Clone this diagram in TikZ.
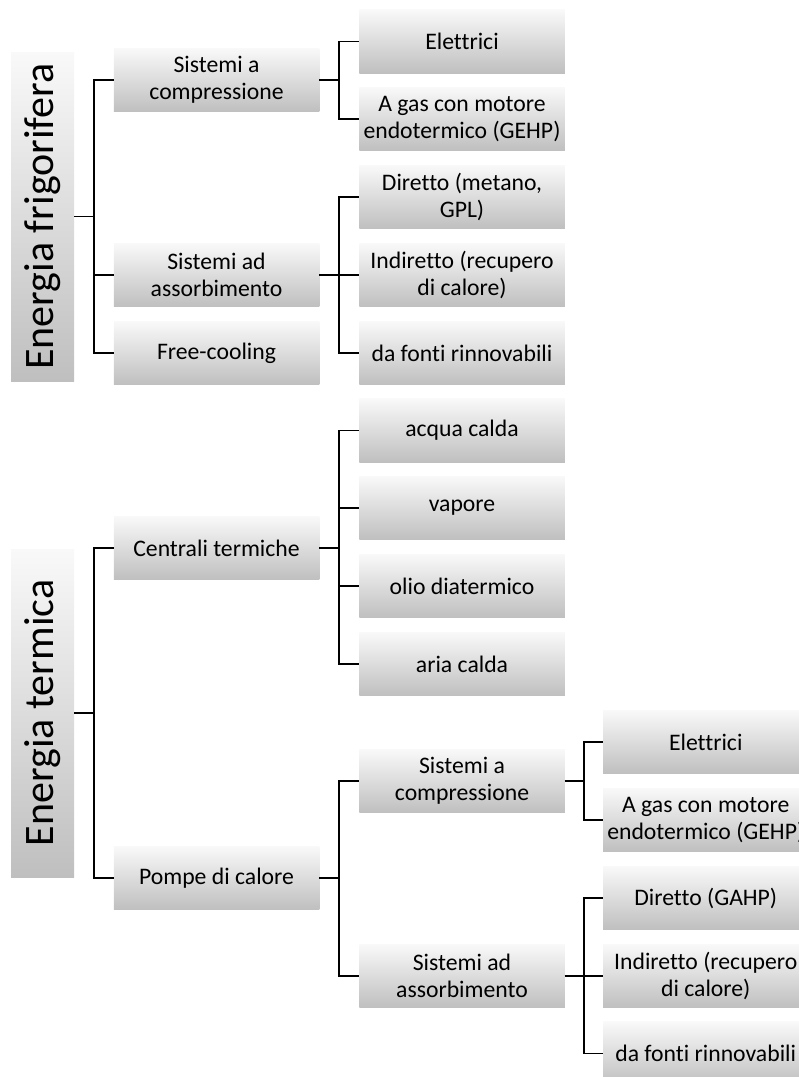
\documentclass[tikz,border=0pt]{standalone}
\usepackage{fontspec}
\setmainfont{Carlito}[Ligatures=NoCommon]
\usetikzlibrary{calc}
\definecolor{gtop}{HTML}{F9F9F9}
\definecolor{gbot}{HTML}{BFBFBF}
\newcommand\mybranch[2]{\draw[conn] (#1.east) -| ($(#1.east)!.5!(#2.west)$) |- (#2.west);}
\begin{document}
\begin{tikzpicture}[x=1pt,y=-1pt,
  box/.style={rectangle, minimum width=205.5pt, minimum height=63.5pt, inner sep=0pt,
    top color=gtop, bottom color=gbot, draw=none, align=center,
    font=\fontsize{23.7}{27}\selectfont},
  lbl/.style={rectangle, minimum width=63pt, minimum height=329pt, inner sep=0pt,
    top color=gtop, bottom color=gbot, draw=none},
  lbltext/.style={rotate=90, inner sep=0pt, font=\fontsize{42}{50}\selectfont},
  conn/.style={line width=1.8pt, black}]
\useasboundingbox (0,0) rectangle (799,1077);
\clip (0,0) rectangle (799,1077);
% labels
\node[lbl] (LF) at (42.5,216.5) {};
\node[lbltext] (LFt) at (LF.center) {Energia frigorifera};
\node[lbl, minimum height=328pt] (LT) at (42.5,713) {};
\node[lbltext] (LTt) at (LT.center) {Energia termica};
% level 1
\node[box] (SC1) at (216.5,80) {Sistemi a\\compressione};
\node[box] (SA1) at (216.5,275) {Sistemi ad\\assorbimento};
\node[box] (FC) at (216.5,353) {Free-cooling};
\node[box] (CT) at (216.5,548) {Centrali termiche};
\node[box] (PC) at (216.5,878) {Pompe di calore};
% level 2
\node[box] (EL1) at (462,41.5) {Elettrici};
\node[box] (AG1) at (462,119) {A gas con motore\\endotermico (GEHP)};
\node[box] (DI1) at (462,197) {Diretto (metano,\\GPL)};
\node[box] (IN1) at (462,275) {Indiretto (recupero\\di calore)};
\node[box] (DF1) at (462,353) {da fonti rinnovabili};
\node[box] (AC) at (462,430.5) {acqua calda};
\node[box] (VA) at (462,508) {vapore};
\node[box] (OD) at (462,586) {olio diatermico};
\node[box] (AR) at (462,664) {aria calda};
\node[box] (SC2) at (462,781) {Sistemi a\\compressione};
\node[box] (SA2) at (462,976) {Sistemi ad\\assorbimento};
% level 3
\node[box] (EL2) at (705.75,742) {Elettrici};
\node[box] (AG2) at (705.75,820) {A gas con motore\\endotermico (GEHP)};
\node[box] (DI2) at (705.75,898) {Diretto (GAHP)};
\node[box] (IN2) at (705.75,976) {Indiretto (recupero\\di calore)};
\node[box] (DF2) at (705.75,1053.5) {da fonti rinnovabili};
% connectors
\mybranch{LF}{SC1}
\mybranch{LF}{SA1}
\mybranch{LF}{FC}
\mybranch{SC1}{EL1}
\mybranch{SC1}{AG1}
\mybranch{SA1}{DI1}
\mybranch{SA1}{IN1}
\mybranch{SA1}{DF1}
\mybranch{LT}{CT}
\mybranch{LT}{PC}
\mybranch{CT}{AC}
\mybranch{CT}{VA}
\mybranch{CT}{OD}
\mybranch{CT}{AR}
\mybranch{PC}{SC2}
\mybranch{PC}{SA2}
\mybranch{SC2}{EL2}
\mybranch{SC2}{AG2}
\mybranch{SA2}{DI2}
\mybranch{SA2}{IN2}
\mybranch{SA2}{DF2}
\end{tikzpicture}
\end{document}
